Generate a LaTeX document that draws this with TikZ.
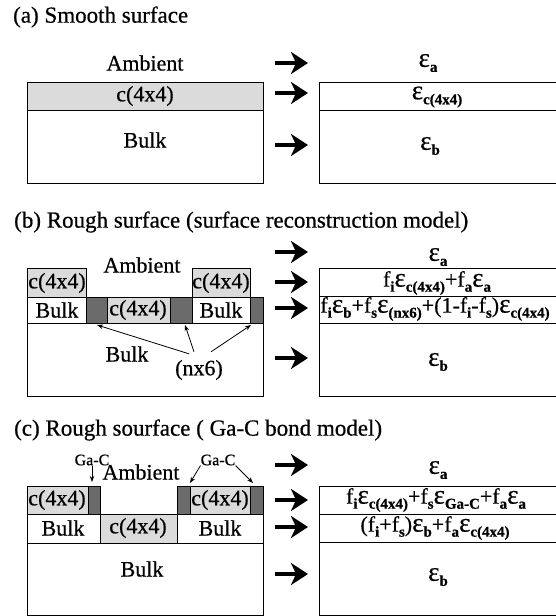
\documentclass[tikz,border=0pt]{standalone}
\usepackage{fontspec}
\setmainfont{Liberation Serif}[FakeBold=0.6]
\usetikzlibrary{arrows.meta}
\newcommand{\lsub}[1]{\raisebox{-0.5ex}{\fontsize{15}{15}\selectfont\bfseries #1}}
\newcommand{\eps}[1]{{\fontsize{27}{27}\selectfont ε}\lsub{#1}}
\begin{document}
\begin{tikzpicture}[x=1pt,y=-1pt,
  every node/.style={font=\fontsize{22}{24}\selectfont,inner sep=0pt},
  layer/.style={draw,line width=0.9pt},
  cgray/.style={layer,fill=black!14},
  dgray/.style={layer,fill=black!58},
  bigarrow/.style={line width=4.5pt,-{Stealth[length=17pt,width=22pt,inset=5pt]}},
  thinarrow/.style={line width=0.8pt,-{Stealth[length=6pt,width=4.5pt]}},
  title/.style={anchor=west,font=\fontsize{23}{25}\selectfont},
  small/.style={font=\fontsize{16}{18}\selectfont}]
\useasboundingbox (0,0) rectangle (555,616);
% (a) smooth surface
\begin{scope}
\node[title] (a-title) at (13,17) {(a) Smooth surface};
\filldraw[cgray] (27,82) rectangle (263,110);
\draw[layer] (27,110) rectangle (263,183);
\node (a-amb) at (145,63) {Ambient};
\node (a-rec) at (145,96) {c(4x4)};
\node (a-bulk) at (145,140) {Bulk};
\foreach \y in {63,93,145} \draw[bigarrow] (275,\y) -- (308,\y);
\draw[layer] (319,82) rectangle (560,183);
\draw[layer] (319,110) -- (560,110);
\node (a-ea) at (428,63) {\eps{a}};
\node (a-ec) at (437,97) {\eps{c(4x4)}};
\node (a-eb) at (430,146) {\eps{b}};
\end{scope}
% (b) rough surface, reconstruction model
\begin{scope}
\node[title] (b-title) at (14,222) {(b) Rough surface (surface reconstruction model)};
\filldraw[cgray] (27,268) rectangle (86,297);
\filldraw[cgray] (192,268) rectangle (250,297);
\draw[layer] (27,297) rectangle (263,396);
\filldraw[dgray] (86,297) rectangle (107,323);
\filldraw[cgray] (107,297) rectangle (170,323);
\filldraw[dgray] (170,297) rectangle (192,323);
\filldraw[dgray] (250,297) rectangle (263,323);
\draw[layer] (27,323) -- (263,323);
\node (b-amb) at (142,265) {Ambient};
\node (b-rec1) at (57,283) {c(4x4)};
\node (b-rec2) at (221,283) {c(4x4)};
\node (b-bulk1) at (57,310) {Bulk};
\node (b-rec3) at (138,310) {c(4x4)};
\node (b-bulk2) at (221,310) {Bulk};
\node (b-bulk) at (127,354) {Bulk};
\node (b-nx6) at (199,370) {(nx6)};
\coordinate (b-s1) at (97,325);
\coordinate (b-s2) at (185,325);
\coordinate (b-s3) at (251,325);
\draw[thinarrow] ([xshift=-10pt,yshift=6pt]b-nx6.north) -- (b-s1);
\draw[thinarrow] ([xshift=-5pt,yshift=8pt]b-nx6.north) -- (b-s2);
\draw[thinarrow] ([xshift=12pt,yshift=8pt]b-nx6.north) -- (b-s3);
\foreach \y in {252,282,308,358} \draw[bigarrow] (275,\y) -- (308,\y);
\draw[layer] (319,268) rectangle (560,396);
\draw[layer] (319,296) -- (560,296);
\draw[layer] (319,323) -- (560,323);
\node (b-ea) at (438,257) {\eps{a}};
\node (b-e1) at (437,283) {f\lsub{i}\eps{c(4x4)}+f\lsub{a}\eps{a}};
\node (b-e2) at (435,309) {f\lsub{i}\eps{b}+f\lsub{s}\eps{(nx6)}+(1-f\lsub{i}-f\lsub{s})\eps{c(4x4)}};
\node (b-eb) at (438,362) {\eps{b}};
\end{scope}
% (c) rough surface, Ga-C bond model
\begin{scope}
\node[title] (c-title) at (14,430) {(c) Rough sourface ( Ga-C bond model)};
\filldraw[cgray] (27,486) rectangle (88,514);
\filldraw[dgray] (88,486) rectangle (100,514);
\filldraw[dgray] (177,486) rectangle (190,514);
\filldraw[cgray] (190,486) rectangle (250,514);
\filldraw[dgray] (250,486) rectangle (263,514);
\draw[layer] (27,514) rectangle (263,615);
\filldraw[cgray] (100,514) rectangle (177,543);
\draw[layer] (27,543) -- (263,543);
\node (c-amb) at (141,472) {Ambient};
\node[small] (c-gc1) at (92,460) {Ga-C};
\node[small] (c-gc2) at (218,460) {Ga-C};
\coordinate (c-t1) at (92,482);
\coordinate (c-t2) at (190,483);
\coordinate (c-t3) at (253,483);
\draw[thinarrow] (c-gc1.south) -- (c-t1);
\draw[thinarrow] (c-gc2.south west) -- (c-t2);
\draw[thinarrow] (c-gc2.south east) -- (c-t3);
\node (c-rec1) at (57,500) {c(4x4)};
\node (c-rec2) at (220,500) {c(4x4)};
\node (c-bulk1) at (63,528) {Bulk};
\node (c-rec3) at (138,528) {c(4x4)};
\node (c-bulk2) at (220,528) {Bulk};
\node (c-bulk) at (142,569) {Bulk};
\foreach \y in {465,500,527,574} \draw[bigarrow] (275,\y) -- (308,\y);
\draw[layer] (319,486) rectangle (560,615);
\draw[layer] (319,514) -- (560,514);
\draw[layer] (319,542) -- (560,542);
\node (c-ea) at (438,470) {\eps{a}};
\node (c-e1) at (436,500) {f\lsub{i}\eps{c(4x4)}+f\lsub{s}\eps{Ga-C}+f\lsub{a}\eps{a}};
\node (c-e2) at (435,528) {(f\lsub{i}+f\lsub{s})\eps{b}+f\lsub{a}\eps{c(4x4)}};
\node (c-eb) at (438,577) {\eps{b}};
\end{scope}
\end{tikzpicture}
\end{document}
